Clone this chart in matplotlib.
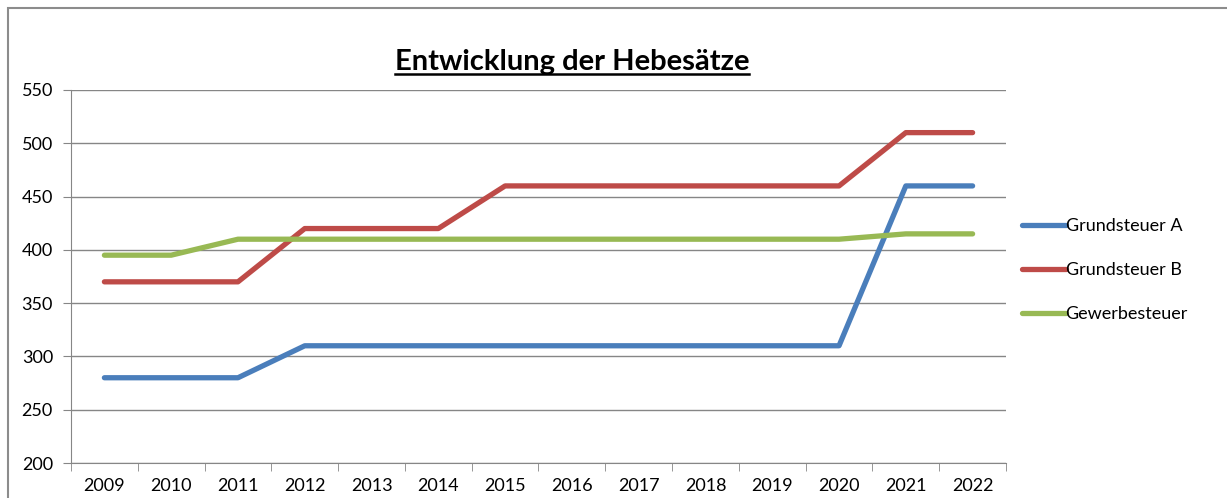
import matplotlib.pyplot as plt
from matplotlib.lines import Line2D
from matplotlib.patches import Rectangle
import numpy as np

plt.rcParams['font.family'] = ['Lato', 'DejaVu Sans']

years = ['2009', '2010', '2011', '2012', '2013', '2014', '2015',
         '2016', '2017', '2018', '2019', '2020', '2021', '2022']
grundsteuer_a = [280, 280, 280, 310, 310, 310, 310, 310, 310, 310, 310, 310, 460, 460]
grundsteuer_b = [370, 370, 370, 420, 420, 420, 460, 460, 460, 460, 460, 460, 510, 510]
gewerbesteuer = [395, 395, 410, 410, 410, 410, 410, 410, 410, 410, 410, 410, 415, 415]

fig = plt.figure(figsize=(12.27, 4.98), dpi=100)
ax = fig.add_axes([71/1227, 1-463/498, (1006-71)/1227, (463-90)/498])

# chart frame
fig.add_artist(Rectangle((8/1227, -0.1), 1.2, 1.1 - 8/498, transform=fig.transFigure,
                         fill=False, edgecolor='#8c8c8c', linewidth=1.5))

x = np.arange(len(years))
ax.plot(x, grundsteuer_a, color='#4A7EBB', lw=3.8, solid_capstyle='round', label='Grundsteuer A', zorder=3)
ax.plot(x, grundsteuer_b, color='#BE4B48', lw=3.8, solid_capstyle='round', label='Grundsteuer B', zorder=3)
ax.plot(x, gewerbesteuer, color='#98B954', lw=3.8, solid_capstyle='round', label='Gewerbesteuer', zorder=3)

ax.set_xlim(-0.5, len(years) - 0.5)
ax.set_ylim(200, 550)
ax.set_yticks(range(200, 551, 50))
ax.set_xticks(x)
ax.set_xticklabels(years)
ax.set_xticks(np.arange(-0.5, len(years), 1), minor=True)
ax.tick_params(axis='x', which='major', length=0, pad=11, labelsize=13)
ax.tick_params(axis='x', which='minor', length=6, color='#868686')
ax.tick_params(axis='y', length=6, color='#868686', labelsize=13, pad=7)
ax.grid(axis='y', color='#868686', lw=1)
for s in ['top', 'right']:
    ax.spines[s].set_visible(False)
ax.spines['left'].set_color('#868686')
ax.spines['bottom'].set_color('#868686')

leg = ax.legend(loc='center left', bbox_to_anchor=(1.0, 0.517), frameon=False,
                fontsize=13, handlelength=2.4, handletextpad=0.0, labelspacing=1.55)

t = fig.text(572/1227, 1-62/498, 'Entwicklung der Hebesätze', ha='center', va='center',
             fontsize=21, fontweight='bold')
fig.canvas.draw()
bb = t.get_window_extent().transformed(fig.transFigure.inverted())
fig.add_artist(Line2D([bb.x0, bb.x1], [bb.y0 + 0.002, bb.y0 + 0.002], transform=fig.transFigure,
                      color='black', lw=1.8))

fig.savefig('out.png', dpi=100)
